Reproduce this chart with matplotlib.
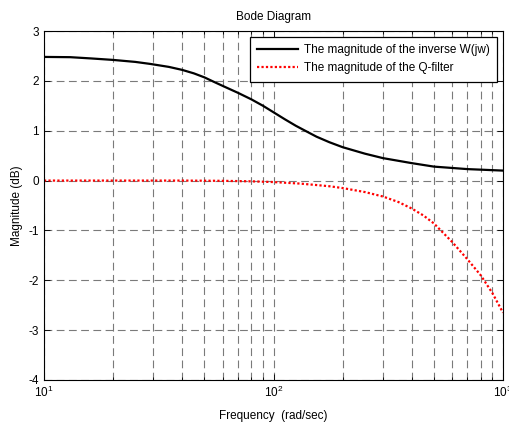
import numpy as np
import matplotlib
matplotlib.use('Agg')
import matplotlib.pyplot as plt
from matplotlib.ticker import LogLocator, NullFormatter, FixedLocator

plt.rcParams['font.family'] = ['Liberation Sans', 'DejaVu Sans']
plt.rcParams['axes.unicode_minus'] = False

# frequency (rad/sec) and magnitude (dB)
freq_w = [10, 13, 16, 20, 25, 29, 35, 40, 45, 50, 55, 60, 70, 80, 90, 100, 112, 125, 140, 154,
          175, 200, 250, 300, 400, 500, 700, 1000]
mag_w = [2.48, 2.475, 2.45, 2.42, 2.38, 2.34, 2.28, 2.22, 2.15, 2.07, 1.98, 1.90, 1.76, 1.63,
         1.50, 1.37, 1.23, 1.10, 0.98, 0.88, 0.77, 0.67, 0.54, 0.45, 0.35, 0.28, 0.23, 0.20]

freq_q = [10, 20, 40, 60, 80, 100, 130, 150, 176, 200, 250, 300, 350, 400, 450, 500, 600, 700,
          800, 900, 1000]
mag_q = [0.0, 0.0, 0.0, -0.005, -0.015, -0.03, -0.06, -0.085, -0.115, -0.15, -0.23, -0.32,
         -0.43, -0.56, -0.70, -0.86, -1.23, -1.58, -1.90, -2.26, -2.65]

fig = plt.figure(figsize=(5.09, 4.23), dpi=100)
ax = fig.add_axes([44 / 509, 1 - 380 / 423, 459 / 509, 349 / 423])

ax.plot(freq_w, mag_w, color='black', lw=1.6, label='The magnitude of the inverse W(jw)')
ax.plot(freq_q, mag_q, color='red', lw=1.6, ls=(0, (1, 1)), label='The magnitude of the Q-filter')

ax.set_xscale('log')
ax.set_xlim(10, 1000)
ax.set_ylim(-4, 3)
ax.yaxis.set_major_locator(FixedLocator([-4, -3, -2, -1, 0, 1, 2, 3]))
ax.xaxis.set_major_locator(LogLocator(base=10))
ax.xaxis.set_minor_locator(LogLocator(base=10, subs=np.arange(2, 10)))
ax.xaxis.set_minor_formatter(NullFormatter())

grid_kw = dict(color='#7a7a7a', lw=0.8, ls=(0, (7, 4)))
ax.grid(True, which='major', axis='both', **grid_kw)
ax.grid(True, which='minor', axis='x', **grid_kw)

ax.tick_params(which='both', direction='in', top=True, right=True, labelsize=8.5, width=0.6)
ax.tick_params(which='major', length=4)
ax.tick_params(which='minor', length=2.5)
for s in ax.spines.values():
    s.set_linewidth(0.8)

ax.set_title('Bode Diagram', fontsize=8.5, pad=8)
ax.set_xlabel('Frequency  (rad/sec)', fontsize=8.5, labelpad=7)
ax.set_ylabel('Magnitude (dB)', fontsize=8.5, labelpad=4)

leg = ax.legend(loc='upper right', fontsize=8.5, fancybox=False, framealpha=1,
                edgecolor='black', handlelength=3.5, handletextpad=0.5,
                borderpad=0.6, labelspacing=0.55, borderaxespad=0.5)
leg.get_frame().set_linewidth(0.9)

fig.savefig('out.png', dpi=100)
